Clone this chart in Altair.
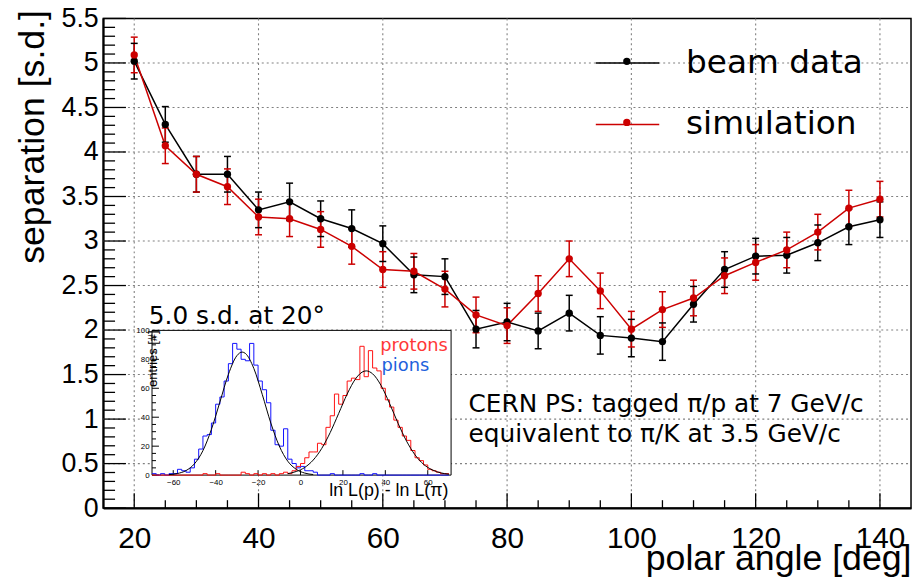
import altair as alt
import pandas as pd

# ---------------- main data ----------------
angles = [20, 25, 30, 35, 40, 45, 50, 55, 60, 65, 70, 75, 80, 85, 90, 95,
          100, 105, 110, 115, 120, 125, 130, 135, 140]
beam_sep = [5.02, 4.31, 3.75, 3.75, 3.35, 3.44, 3.25, 3.14, 2.97, 2.62, 2.60, 2.01,
            2.09, 1.99, 2.19, 1.94, 1.91, 1.87, 2.29, 2.68, 2.83, 2.84, 2.98, 3.16, 3.24]
beam_err = [0.20, 0.20, 0.20, 0.20, 0.20, 0.21, 0.20, 0.21, 0.20, 0.20, 0.20, 0.21,
            0.21, 0.20, 0.20, 0.21, 0.21, 0.21, 0.20, 0.20, 0.20, 0.20, 0.20, 0.20, 0.20]
sim_sep = [5.09, 4.07, 3.75, 3.61, 3.27, 3.25, 3.13, 2.94, 2.68, 2.66, 2.46, 2.17,
           2.05, 2.41, 2.80, 2.44, 2.01, 2.23, 2.36, 2.61, 2.76, 2.90, 3.10, 3.37, 3.47]
sim_err = [0.20, 0.20, 0.20, 0.20, 0.20, 0.20, 0.20, 0.20, 0.20, 0.20, 0.20, 0.20,
           0.20, 0.20, 0.20, 0.20, 0.20, 0.20, 0.20, 0.20, 0.20, 0.20, 0.20, 0.20, 0.20]
series_names = ["beam data", "simulation"]
series_marker_keys = ["beam data marker", "simulation marker"]
series_colors = ["#000000", "#cc0000"]

x_domain = [15, 145]
y_domain = [0, 5.5]
x_major = [20, 40, 60, 80, 100, 120, 140]
x_minor = [25, 30, 35, 45, 50, 55, 65, 70, 75, 85, 90, 95, 105, 110, 115, 125, 130, 135]
y_major = [0, 0.5, 1, 1.5, 2, 2.5, 3, 3.5, 4, 4.5, 5, 5.5]
y_grid = [0.5, 1, 1.5, 2, 2.5, 3, 3.5, 4, 4.5, 5]
y_minor = [round(i * 0.1, 1) for i in range(1, 55) if i % 5]

# ---------------- inset data ----------------
inset_x_domain = [-70, 71]
inset_y_domain = [0, 100]
inset_x_labels = [-60, -40, -20, 0, 20, 40, 60]
inset_y_labels = [0, 20, 40, 60, 80, 100]
inset_y_minor = [5, 10, 15, 25, 30, 35, 45, 50, 55, 65, 70, 75, 85, 90, 95]
hist_centers = list(range(-69, 70, 2))
pion_counts = [1, 0, 1, 0, 1, 1, 4, 3, 2, 5, 11, 18, 27, 28, 36, 49, 54, 65, 77, 91,
               87, 80, 79, 91, 76, 65, 59, 50, 31, 21, 20, 32, 11, 8, 5,
               6, 3, 3, 2, 0, 0, 0, 1, 0, 0, 0, 0, 0, 0, 1, 0, 0, 1, 0, 0,
               0, 0, 0, 0, 0, 0, 0, 0, 0, 0, 0, 0, 0, 0, 0]
proton_counts = [0, 0, 0, 0, 0, 0, 0, 0, 0, 0, 0, 0, 1, 0, 0, 1, 0, 0, 0, 0,
                 0, 2, 1, 0, 1, 0, 1, 0, 1, 0, 1, 2, 1, 3, 6,
                 8, 12, 16, 16, 22, 21, 33, 41, 56, 49, 55, 65, 67, 66, 89, 68, 86, 74, 72,
                 60, 52, 47, 38, 33, 27, 24, 17, 12, 10, 7, 4, 3, 2, 1, 1]
pion_fit_x = [-62, -58, -54, -50, -46, -42, -38, -34, -30, -27.5, -26, -22, -18, -14,
              -10, -6, -2, 2, 6]
pion_fit_y = [0.3, 1.1, 3.1, 7.8, 16.9, 31.6, 50.5, 69.6, 82.5, 85.0, 84.1, 73.7, 55.6,
              36.0, 20.1, 9.6, 4.0, 1.4, 0.4]
proton_fit_x = [-6, -2, 2, 6, 10, 14, 18, 22, 26, 30, 31, 34, 38, 42, 46, 50, 54, 58,
                62, 66, 70]
proton_fit_y = [1.0, 2.5, 5.3, 10.4, 18.4, 29.4, 42.6, 56.0, 66.6, 71.8, 72.0, 70.0, 61.9,
                49.5, 35.8, 23.5, 14.0, 7.5, 3.7, 1.6, 0.6]

# ---------------- layout ----------------
W, H = 815, 494
TOP = 8
IX0, IX1 = 49.3, 351.0      # inset frame, plot-relative pixels
IY0, IY1 = 476.7 - 8 - TOP, 330.7 - 8 - TOP
LAB = "Liberation Sans"
DV = "DejaVu Sans"

rows = []
for name, key, seps, errs in [(series_names[0], series_marker_keys[0], beam_sep, beam_err),
                              (series_names[1], series_marker_keys[1], sim_sep, sim_err)]:
    for a, s, e in zip(angles, seps, errs):
        rows.append({"angle": a, "sep": s, "lo": s - e, "hi": s + e,
                     "series": name, "marker": key})
df = pd.DataFrame(rows)

xs = alt.Scale(domain=x_domain, nice=False, zero=False)
ys = alt.Scale(domain=y_domain, nice=False, zero=False)
cs = alt.Scale(domain=series_names, range=series_colors)
ms = alt.Scale(domain=series_marker_keys, range=series_colors)
xi = alt.Scale(domain=inset_x_domain, range=[IX0, IX1], nice=False, zero=False)
yi = alt.Scale(domain=inset_y_domain, range=[IY0, IY1], nice=False, zero=False)

x_axis = alt.Axis(values=x_major, orient="bottom", grid=False, ticks=False, domain=True,
                  domainColor="black", domainWidth=2, labelFont=LAB, labelFontSize=30,
                  labelColor="black", labelPadding=16, labelFlush=False, labelOverlap=False,
                  title="polar angle [deg]", titleFont=LAB, titleFontSize=36,
                  titleFontWeight="normal", titleColor="black", titleAnchor="end",
                  titleAlign="right", titleBaseline="alphabetic", titleX=W, titleY=62)
y_axis = alt.Axis(values=y_major, orient="left", format="~g", grid=False, ticks=False,
                  domain=True, domainColor="black", domainWidth=2, labelFont=LAB,
                  labelFontSize=27, labelColor="black", labelPadding=5, labelFlush=False,
                  labelOverlap=False,
                  title="separation [s.d.]", titleFont=LAB, titleFontSize=36,
                  titleFontWeight="normal", titleColor="black", titleAnchor="end",
                  titleAlign="right", titleBaseline="middle", titleAngle=270,
                  titleX=-71, titleY=-9)

GRID = dict(color="#808080", strokeWidth=1.1, strokeDash=[2, 3])
xgrid = alt.Chart(pd.DataFrame({"t": x_major})).mark_rule(**GRID).encode(
    x=alt.X("t:Q", scale=xs, axis=None), y=alt.value(0), y2=alt.value(H))
ygrid = alt.Chart(pd.DataFrame({"t": y_grid})).mark_rule(**GRID).encode(
    y=alt.Y("t:Q", scale=ys, axis=None), x=alt.value(0), x2=alt.value(W))


def xtick_layer(vals, length):
    return alt.Chart(pd.DataFrame({"t": vals})).mark_rule(color="black", strokeWidth=1.3).encode(
        x=alt.X("t:Q", scale=xs, axis=None), y=alt.value(H), y2=alt.value(H - length))


def ytick_layer(vals, length):
    return alt.Chart(pd.DataFrame({"t": vals})).mark_rule(color="black", strokeWidth=1.3).encode(
        y=alt.Y("t:Q", scale=ys, axis=None), x=alt.value(0), x2=alt.value(length))


LEG_X, LEG_LEN = 496, 64
line_leg = alt.Legend(title=None, orient="none", legendX=LEG_X, legendY=12,
                      symbolType="stroke", symbolSize=LEG_LEN * LEG_LEN,
                      symbolStrokeWidth=1.5, symbolOpacity=1, labelFont=DV,
                      labelFontSize=33, labelColor="black", labelOffset=26,
                      labelLimit=500, rowPadding=12, padding=0)
DOT = 7.4
dot_leg = alt.Legend(title=None, orient="none", legendX=LEG_X + LEG_LEN / 2 - DOT / 2,
                     legendY=39.3,
                     symbolType="circle", symbolSize=DOT * DOT, symbolStrokeWidth=0,
                     symbolOpacity=1, labelExpr="''", labelFontSize=1, labelOffset=0,
                     rowPadding=53.6, padding=0)

line = alt.Chart(df).mark_line(strokeWidth=1.5).encode(
    x=alt.X("angle:Q", scale=xs, axis=x_axis),
    y=alt.Y("sep:Q", scale=ys, axis=y_axis),
    color=alt.Color("series:N", scale=cs, legend=line_leg))
err = alt.Chart(df).mark_rule(strokeWidth=1.5).encode(
    x=alt.X("angle:Q", scale=xs, axis=None),
    y=alt.Y("lo:Q", scale=ys, axis=None), y2="hi:Q",
    color=alt.Color("series:N", scale=cs, legend=None))
cap_lo = alt.Chart(df).mark_tick(orient="horizontal", size=7, thickness=1.5, opacity=1).encode(
    x=alt.X("angle:Q", scale=xs, axis=None), y=alt.Y("lo:Q", scale=ys, axis=None),
    color=alt.Color("series:N", scale=cs, legend=None))
cap_hi = alt.Chart(df).mark_tick(orient="horizontal", size=7, thickness=1.5, opacity=1).encode(
    x=alt.X("angle:Q", scale=xs, axis=None), y=alt.Y("hi:Q", scale=ys, axis=None),
    color=alt.Color("series:N", scale=cs, legend=None))
points = alt.Chart(df).mark_point(filled=True, shape="circle", size=55, strokeWidth=0,
                                  opacity=1).encode(
    x=alt.X("angle:Q", scale=xs, axis=None), y=alt.Y("sep:Q", scale=ys, axis=None),
    fill=alt.Fill("marker:N", scale=ms, legend=dot_leg))

ann = pd.DataFrame({"x": [73.8, 73.8], "y": [1.074, 0.741],
                    "t": ["CERN PS: tagged π/p at 7 GeV/c",
                          "equivalent to π/K at 3.5 GeV/c"]})
ann_text = alt.Chart(ann).mark_text(font=DV, fontSize=25, align="left",
                                    baseline="alphabetic", color="black").encode(
    x=alt.X("x:Q", scale=xs, axis=None), y=alt.Y("y:Q", scale=ys, axis=None), text="t:N")

# ---------------- inset ----------------
xi_axis = alt.Axis(values=inset_x_labels, orient="bottom", offset=IY0 - H, grid=False,
                   domain=False, ticks=False, labelFont=LAB, labelFontSize=8,
                   labelColor="black", labelPadding=3, labelFlush=False, title=None)
yi_axis = alt.Axis(values=inset_y_labels, orient="left", offset=-IX0, grid=False,
                   domain=False, ticks=False, labelFont=LAB, labelFontSize=8,
                   labelColor="black", labelPadding=3, labelFlush=False, title=None)

frame_df = pd.DataFrame({"x0": [inset_x_domain[0]], "x1": [inset_x_domain[1]],
                         "y0": [inset_y_domain[0]], "y1": [inset_y_domain[1]]})
frame = alt.Chart(frame_df).mark_rect(fill="white", stroke="black", strokeWidth=1).encode(
    x=alt.X("x0:Q", scale=xi, axis=xi_axis), x2="x1:Q",
    y=alt.Y("y0:Q", scale=yi, axis=yi_axis), y2="y1:Q")


def iy_ticks(vals, length):
    return alt.Chart(pd.DataFrame({"t": vals})).mark_rule(color="black", strokeWidth=1).encode(
        y=alt.Y("t:Q", scale=yi, axis=None), x=alt.value(IX0), x2=alt.value(IX0 + length))


def ix_ticks(vals, length):
    return alt.Chart(pd.DataFrame({"t": vals})).mark_rule(color="black", strokeWidth=1).encode(
        x=alt.X("t:Q", scale=xi, axis=None), y=alt.value(IY0), y2=alt.value(IY0 - length))


def hist_layer(counts, color):
    edges = [c - 1 for c in hist_centers] + [hist_centers[-1] + 1]
    vals = list(counts) + [counts[-1]]
    d = pd.DataFrame({"e": edges, "n": vals})
    return alt.Chart(d).mark_line(interpolate="step-after", color=color, strokeWidth=1).encode(
        x=alt.X("e:Q", scale=xi, axis=None), y=alt.Y("n:Q", scale=yi, axis=None))


def fit_layer(fx, fy):
    d = pd.DataFrame({"fx": fx, "fy": fy})
    return alt.Chart(d).mark_line(interpolate="monotone", color="black", strokeWidth=1).encode(
        x=alt.X("fx:Q", scale=xi, axis=None), y=alt.Y("fy:Q", scale=yi, axis=None))


def itext(x, y, t, size, color, align, baseline, font=DV, angle=0):
    d = pd.DataFrame({"x": [x], "y": [y], "t": [t]})
    return alt.Chart(d).mark_text(font=font, fontSize=size, color=color, align=align,
                                  baseline=baseline, angle=angle).encode(
        x=alt.X("x:Q", scale=xi, axis=None), y=alt.Y("y:Q", scale=yi, axis=None), text="t:N")


layers = [
    xgrid, ygrid,
    line, err, cap_lo, cap_hi, points, ann_text,
    xtick_layer(x_major, 15), xtick_layer(x_minor, 8),
    ytick_layer(y_major, 23), ytick_layer(y_minor, 12),
    frame,
    iy_ticks(inset_y_labels, 7), iy_ticks(inset_y_minor, 4), ix_ticks(inset_x_labels, 5),
    hist_layer(pion_counts, "#1010ff"),
    hist_layer(proton_counts, "#ff1010"),
    fit_layer(pion_fit_x, pion_fit_y),
    fit_layer(proton_fit_x, proton_fit_y),
    itext(-71.5, 104.6, "5.0 s.d. at 20°", 25, "black", "left", "alphabetic"),
    itext(69.5, 85.6, "protons", 18, "#ff3838", "right", "alphabetic"),
    itext(38.2, 71.9, "pions", 18, "#1e62dc", "left", "alphabetic"),
    itext(69.8, -14.6, "ln L(p) - ln L(π)", 18, "black", "right", "alphabetic", font=LAB),
    itext(-72.5, 100, "entries [#]", 13, "black", "right", "top", font=LAB, angle=270),
]

chart = alt.layer(*layers).resolve_scale(
    x="independent", y="independent"
).properties(
    width=W, height=H,
    padding={"left": 96, "top": TOP, "right": 2, "bottom": 71},
    autosize=alt.AutoSizeParams(type="none"),
).configure_view(stroke="black", strokeWidth=1.5)

chart.save("out.html", embed_options={"renderer": "svg", "actions": False})
